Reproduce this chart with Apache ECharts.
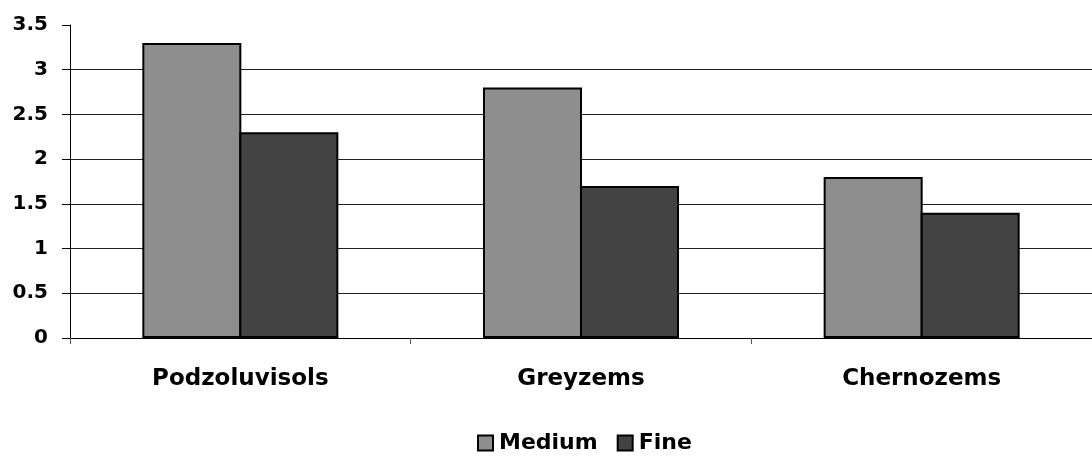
<!DOCTYPE html>
<html>
<head>
<meta charset="utf-8">
<script src="https://cdn.jsdelivr.net/npm/echarts@6/dist/echarts.min.js"></script>
<style>
html,body{margin:0;padding:0;background:#fff;}
#chart{width:1092px;height:458px;}
</style>
</head>
<body>
<div id="chart"></div>
<script>
const categories = ['Podzoluvisols', 'Greyzems', 'Chernozems'];
const mediumValues = [3.3, 2.8, 1.8];
const fineValues = [2.3, 1.7, 1.4];
const seriesNames = ['Medium', 'Fine'];

const FONT = '"DejaVu Sans", "Liberation Sans", Arial, sans-serif';
const chart = echarts.init(document.getElementById('chart'), null, {renderer: 'canvas'});
chart.setOption({
  animation: false,
  backgroundColor: '#ffffff',
  grid: {left: 70, right: 0, top: 25, bottom: 120, containLabel: false},
  legend: {
    top: 432,
    left: 477,
    padding: 0,
    itemWidth: 15,
    itemHeight: 15,
    itemGap: 19,
    icon: 'rect',
    itemStyle: {borderColor: '#000', borderWidth: 2},
    textStyle: {fontFamily: FONT, fontWeight: 'bold', fontSize: 22, color: '#000', padding: [0, 0, 0, 1]},
    data: seriesNames
  },
  xAxis: {
    type: 'category',
    data: categories,
    axisLine: {lineStyle: {color: '#000', width: 1}},
    axisTick: {show: true, length: 6, lineStyle: {color: '#555'}},
    axisLabel: {fontFamily: FONT, fontWeight: 'bold', fontSize: 23, color: '#000', margin: 30}
  },
  yAxis: {
    type: 'value',
    min: 0,
    max: 3.5,
    interval: 0.5,
    axisLine: {show: true, lineStyle: {color: '#000', width: 1}},
    axisTick: {show: true, length: 8, lineStyle: {color: '#000'}},
    axisLabel: {fontFamily: FONT, fontWeight: 'bold', fontSize: 20, color: '#000', margin: 22},
    splitLine: {show: true, showMaxLine: false, lineStyle: {color: '#222', width: 1}}
  },
  series: [
    {
      name: seriesNames[0],
      type: 'bar',
      data: mediumValues,
      barWidth: 99,
      barGap: '-2%',
      itemStyle: {color: '#8e8e8e', borderColor: '#000', borderWidth: 2}
    },
    {
      name: seriesNames[1],
      type: 'bar',
      data: fineValues,
      barWidth: 99,
      barGap: '-2%',
      itemStyle: {color: '#434343', borderColor: '#000', borderWidth: 2}
    }
  ]
});
</script>
</body>
</html>
